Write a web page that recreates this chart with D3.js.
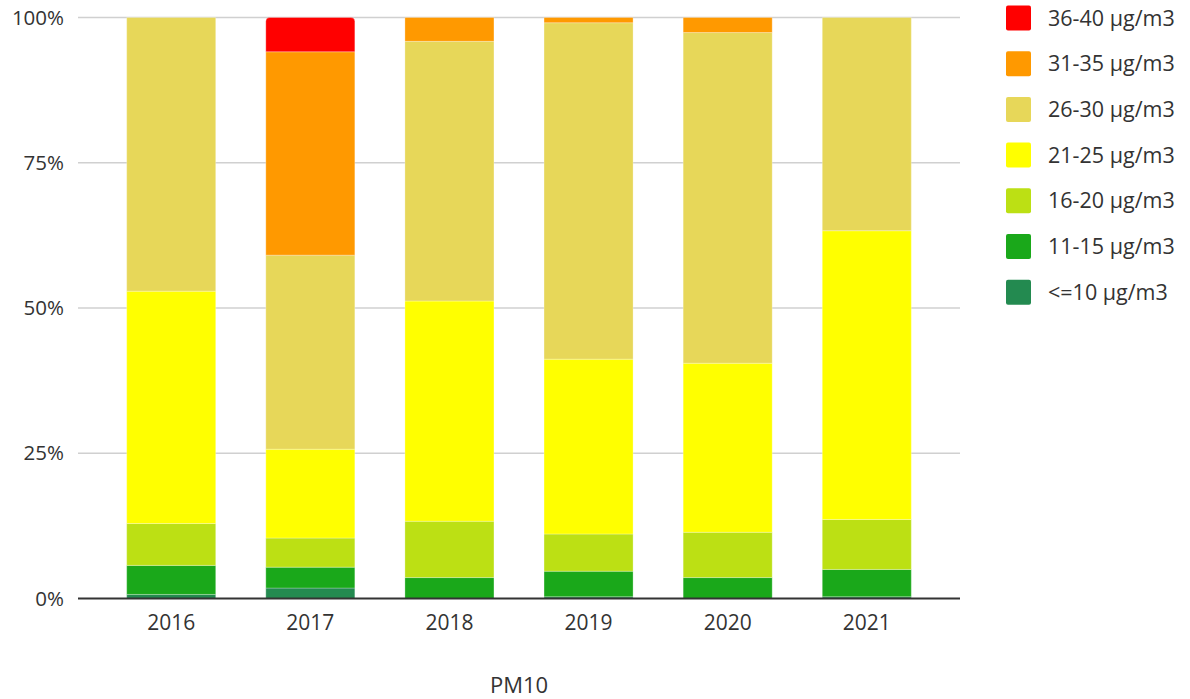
<!DOCTYPE html>
<html>
<head>
<meta charset="utf-8">
<script src="https://cdn.jsdelivr.net/npm/d3@7"></script>
<style>
  html, body { margin: 0; padding: 0; background: #fff; }
  svg { display: block; font-family: "Open Sans", "Noto Sans", sans-serif; }
</style>
</head>
<body>
<svg id="chart" width="1190" height="699"></svg>
<script>
const years = ["2016", "2017", "2018", "2019", "2020", "2021"];
const seriesNames = ["<=10 μg/m3", "11-15 μg/m3", "16-20 μg/m3", "21-25 μg/m3", "26-30 μg/m3", "31-35 μg/m3", "36-40 μg/m3"];
const seriesColors = ["#238a50", "#1aa81a", "#bce014", "#ffff00", "#e7d759", "#ff9900", "#ff0000"];
// percentage of each class per year
const le10   = [0.7, 1.8, 0.0, 0.3, 0.0, 0.3];
const c11_15 = [5.0, 3.6, 3.6, 4.4, 3.6, 4.7];
const c16_20 = [7.2, 5.0, 9.7, 6.4, 7.8, 8.6];
const c21_25 = [40.0, 15.3, 37.9, 30.1, 29.1, 49.7];
const c26_30 = [47.1, 33.4, 44.7, 57.9, 56.9, 36.7];
const c31_35 = [0.0, 35.0, 4.1, 0.9, 2.6, 0.0];
const c36_40 = [0.0, 5.9, 0.0, 0.0, 0.0, 0.0];
const yTicks = [0, 0.25, 0.5, 0.75, 1];
const xTitle = "PM10";

const seriesValues = [le10, c11_15, c16_20, c21_25, c26_30, c31_35, c36_40];
const table = years.map((y, i) => {
  const row = { year: y };
  seriesNames.forEach((s, k) => row[s] = seriesValues[k][i]);
  return row;
});
const stacked = d3.stack().keys(seriesNames).offset(d3.stackOffsetExpand)(table);

const svg = d3.select("#chart");
const mLeft = 78, mRight = 960, mTop = 17.5, mBottom = 598.5;

const x = d3.scaleBand().domain(years).range([mLeft, mRight]).paddingInner(0.36).paddingOuter(0.35);
const y = d3.scaleLinear().domain([0, 1]).range([mBottom, mTop]);

// gridlines
svg.append("g").selectAll("line").data(yTicks.filter(t => t > 0)).join("line")
  .attr("x1", mLeft).attr("x2", mRight)
  .attr("y1", d => y(d)).attr("y2", d => y(d))
  .attr("stroke", "#d0d0d0").attr("stroke-width", 1.5);

// y labels
const yAxis = d3.axisLeft(y).tickValues(yTicks).tickFormat(d3.format(".0%")).tickSize(0).tickPadding(14);
const ya = svg.append("g").attr("transform", `translate(${mLeft},0)`).call(yAxis);
ya.select(".domain").remove();
ya.selectAll("text").attr("font-size", 20.5).attr("fill", "#333")
  .attr("font-family", "'Open Sans', sans-serif");

// bars
const radius = 4;
function topRounded(x0, y0, w, h, r) {
  r = Math.min(r, h, w / 2);
  return `M${x0},${y0 + h} L${x0},${y0 + r} Q${x0},${y0} ${x0 + r},${y0} L${x0 + w - r},${y0} Q${x0 + w},${y0} ${x0 + w},${y0 + r} L${x0 + w},${y0 + h} Z`;
}
const layers = svg.append("g").selectAll("g").data(stacked).join("g")
  .attr("fill", (d, i) => seriesColors[i]);
layers.each(function(layer, li) {
  d3.select(this).selectAll("path").data(layer.filter(d => d[1] - d[0] > 0)).join("path")
    .attr("d", d => {
      const x0 = x(d.data.year), w = x.bandwidth();
      const y0 = y(d[1]), h = y(d[0]) - y(d[1]);
      const isTop = d[1] >= 0.99999;
      return isTop && li === seriesNames.length - 1 ? topRounded(x0, y0, w, h, radius)
        : `M${x0},${y0}h${w}v${h}h${-w}Z`;
    })
    .attr("stroke", "#ffffff").attr("stroke-opacity", 0.35).attr("stroke-width", 0.8);
});

// x axis
const xAxis = d3.axisBottom(x).tickSize(0).tickPadding(17);
const xa = svg.append("g").attr("transform", `translate(0,${mBottom})`).call(xAxis);
xa.select(".domain").remove();
xa.selectAll("text").attr("font-size", 21).attr("fill", "#333")
  .attr("font-family", "'Open Sans', sans-serif");
svg.append("line").attr("x1", mLeft).attr("x2", mRight).attr("y1", mBottom).attr("y2", mBottom)
  .attr("stroke", "#333").attr("stroke-width", 2);

// x title
svg.append("text").attr("x", 519).attr("y", 693)
  .attr("text-anchor", "middle").attr("font-size", 22).attr("fill", "#333").text(xTitle);

// legend (top to bottom, reversed order)
const legendItems = seriesNames.map((n, i) => ({ name: n, color: seriesColors[i] })).reverse();
const lg = svg.append("g").selectAll("g").data(legendItems).join("g")
  .attr("transform", (d, i) => `translate(1006,${5.5 + i * 45.7})`);
lg.append("rect").attr("width", 25).attr("height", 25).attr("rx", 2)
  .attr("fill", d => d.color);
lg.append("text").attr("x", 42).attr("y", 12.5).attr("dy", "0.35em")
  .attr("font-size", 21.5).attr("fill", "#333").text(d => d.name);
</script>
</body>
</html>
